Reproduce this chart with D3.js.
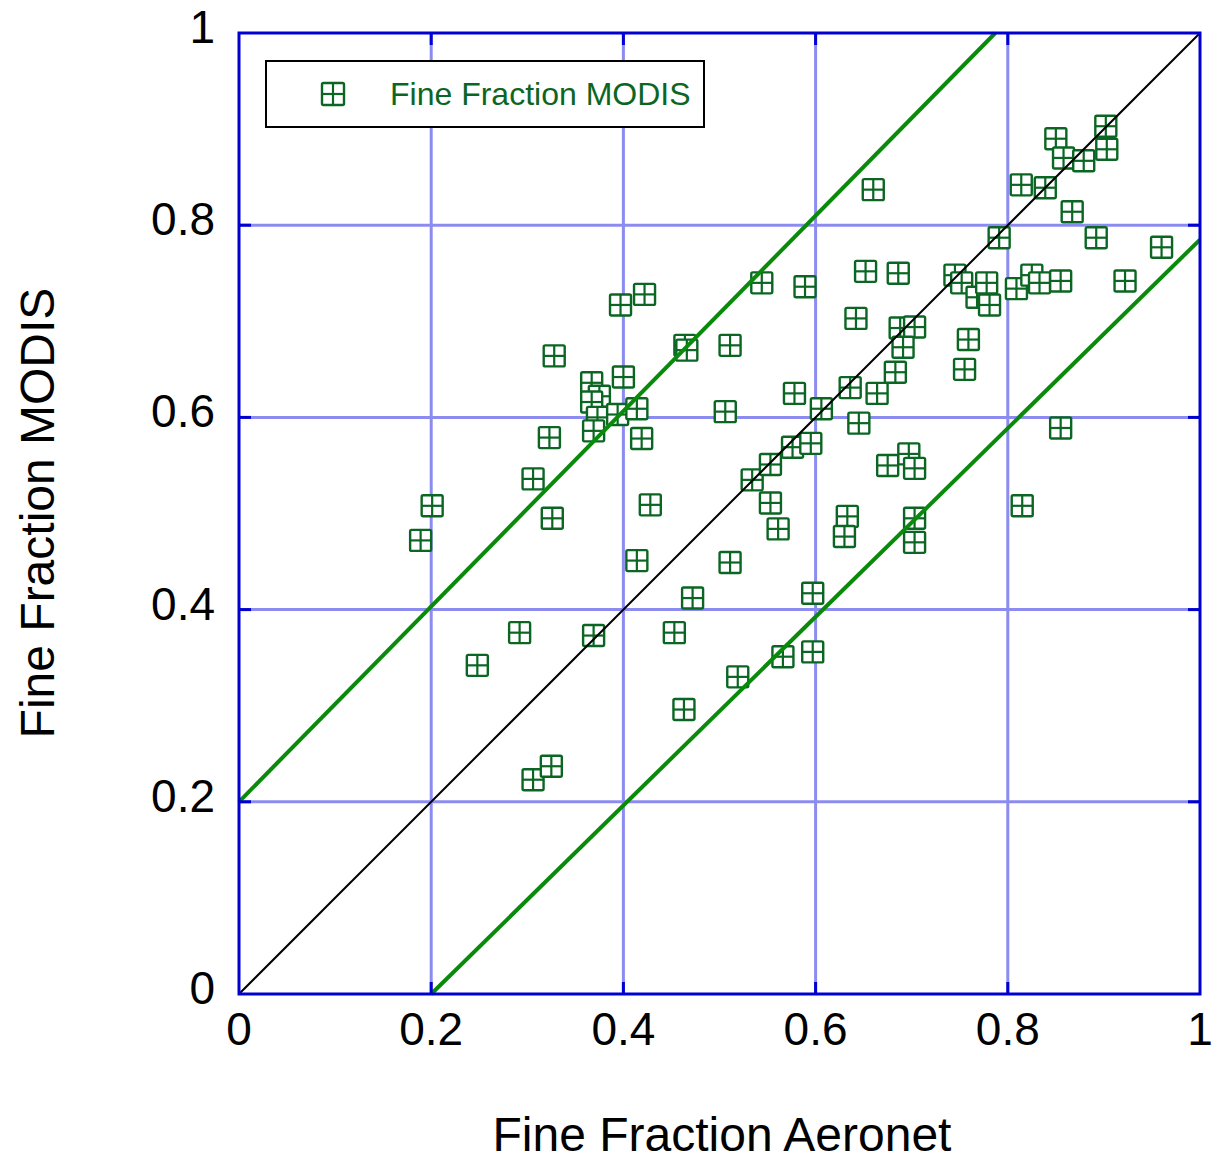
<!DOCTYPE html>
<html><head><meta charset="utf-8">
<script src="https://cdn.jsdelivr.net/npm/d3@7"></script>
<style>body{margin:0;background:#fff}</style>
</head><body>
<svg id="c" width="1217" height="1164"></svg>
<script>
const xTicks = [0, 0.2, 0.4, 0.6, 0.8, 1];
const yTicks = [0, 0.2, 0.4, 0.6, 0.8, 1];
const tickLabels = ["0", "0.2", "0.4", "0.6", "0.8", "1"];
const seriesName = "Fine Fraction MODIS";
const aeronet = [0.189,0.201,0.248,0.292,0.306,0.325,0.306,0.326,0.323,0.328,0.369,0.367,0.375,0.367,0.373,0.369,0.394,0.400,0.414,0.419,0.397,0.422,0.464,0.466,0.428,0.414,0.453,0.463,0.472,0.511,0.506,0.511,0.519,0.544,0.589,0.534,0.553,0.553,0.561,0.566,0.597,0.597,0.576,0.595,0.578,0.606,0.636,0.645,0.642,0.652,0.660,0.664,0.686,0.683,0.688,0.703,0.691,0.675,0.697,0.703,0.633,0.630,0.703,0.703,0.745,0.752,0.759,0.755,0.768,0.778,0.781,0.791,0.809,0.825,0.833,0.855,0.815,0.855,0.814,0.839,0.850,0.858,0.879,0.867,0.902,0.903,0.892,0.922,0.960];
const modis = [0.472,0.508,0.342,0.376,0.223,0.237,0.536,0.495,0.579,0.664,0.373,0.636,0.622,0.616,0.600,0.586,0.603,0.642,0.609,0.578,0.717,0.728,0.675,0.670,0.509,0.451,0.376,0.296,0.412,0.675,0.606,0.449,0.330,0.740,0.736,0.535,0.551,0.511,0.484,0.351,0.356,0.417,0.569,0.573,0.625,0.609,0.631,0.594,0.703,0.752,0.837,0.625,0.750,0.647,0.693,0.694,0.673,0.550,0.562,0.547,0.497,0.476,0.495,0.470,0.748,0.740,0.681,0.650,0.725,0.740,0.717,0.787,0.734,0.748,0.740,0.742,0.508,0.589,0.842,0.839,0.890,0.870,0.867,0.814,0.903,0.879,0.787,0.742,0.777];
// reference lines as [x0,y0,x1,y1] in data units
const refLines = [
  {pts:[[0,0],[1,1]], color:"#000", w:2},
  {pts:[[0,0.2],[0.787,1]], color:"#0a8a0a", w:4},
  {pts:[[0.2,0],[1,0.785]], color:"#0a8a0a", w:4}
];

const svg = d3.select("#c");
const L = 239, R = 1200, T = 33, B = 994;
const x = d3.scaleLinear().domain([0,1]).range([L,R]);
const y = d3.scaleLinear().domain([0,1]).range([B,T]);
const mk = "#0b6623";
const font = "'Liberation Sans', Arial, sans-serif";

// grid
const g = svg.append("g");
g.selectAll(".vg").data(xTicks.slice(1,-1)).join("line")
  .attr("x1", d=>x(d)).attr("x2", d=>x(d)).attr("y1", T).attr("y2", B)
  .attr("stroke", "#8c8cf0").attr("stroke-width", 3);
g.selectAll(".hg").data(yTicks.slice(1,-1)).join("line")
  .attr("y1", d=>y(d)).attr("y2", d=>y(d)).attr("x1", L).attr("x2", R)
  .attr("stroke", "#8c8cf0").attr("stroke-width", 3);

// markers
function marker(sel, s) {
  sel.append("rect").attr("x", -s/2).attr("y", -s/2).attr("width", s).attr("height", s)
    .attr("rx", 1.5).attr("fill", "#fff").attr("stroke", mk).attr("stroke-width", 2.4);
  sel.append("line").attr("x1", 0).attr("x2", 0).attr("y1", -s/2).attr("y2", s/2).attr("stroke", mk).attr("stroke-width", 2.2);
  sel.append("line").attr("y1", 0).attr("y2", 0).attr("x1", -s/2).attr("x2", s/2).attr("stroke", mk).attr("stroke-width", 2.2);
}
const pts = aeronet.map((a,i)=>[a, modis[i]]);
svg.append("g").selectAll("g").data(pts).join("g")
  .attr("transform", d=>`translate(${x(d[0])},${y(d[1])})`)
  .each(function(){ marker(d3.select(this), 21); });

// reference lines
const lineGen = d3.line().x(d=>x(d[0])).y(d=>y(d[1]));
refLines.forEach(r=>{
  svg.append("path").attr("d", lineGen(r.pts))
    .attr("stroke", r.color).attr("stroke-width", r.w).attr("fill", "none");
});

// frame + ticks
svg.append("rect").attr("x", L).attr("y", T).attr("width", R-L).attr("height", B-T)
  .attr("fill", "none").attr("stroke", "#0000d0").attr("stroke-width", 3);
const tk = svg.append("g").attr("stroke", "#0000d0").attr("stroke-width", 3);
xTicks.slice(1,-1).forEach(d=>{
  tk.append("line").attr("x1", x(d)).attr("x2", x(d)).attr("y1", B).attr("y2", B-12);
  tk.append("line").attr("x1", x(d)).attr("x2", x(d)).attr("y1", T).attr("y2", T+12);
});
yTicks.slice(1,-1).forEach(d=>{
  tk.append("line").attr("y1", y(d)).attr("y2", y(d)).attr("x1", L).attr("x2", L+12);
  tk.append("line").attr("y1", y(d)).attr("y2", y(d)).attr("x1", R).attr("x2", R-12);
});

// tick labels
svg.append("g").selectAll("text").data(xTicks).join("text")
  .attr("x", d=>x(d)).attr("y", 1045).attr("text-anchor", "middle")
  .attr("font-family", font).attr("font-size", 46).text((d,i)=>tickLabels[i]);
svg.append("g").selectAll("text").data(yTicks).join("text")
  .attr("x", 215).attr("y", d=>y(d)+10).attr("text-anchor", "end")
  .attr("font-family", font).attr("font-size", 46).text((d,i)=>tickLabels[i]);

// axis titles
svg.append("text").attr("x", 722).attr("y", 1151).attr("text-anchor", "middle")
  .attr("font-family", font).attr("font-size", 48).text("Fine Fraction Aeronet");
svg.append("text").attr("transform", "translate(54,513) rotate(-90)").attr("text-anchor", "middle")
  .attr("font-family", font).attr("font-size", 48).text("Fine Fraction MODIS");

// legend
const lg = svg.append("g");
lg.append("rect").attr("x", 266).attr("y", 61).attr("width", 438).attr("height", 66)
  .attr("fill", "#fff").attr("stroke", "#000").attr("stroke-width", 2);
const lm = lg.append("g").attr("transform", "translate(333,94)");
marker(lm, 22);
lg.append("text").attr("x", 390).attr("y", 105).attr("font-family", font).attr("font-size", 32)
  .attr("fill", mk).text(seriesName);
</script>
</body></html>
